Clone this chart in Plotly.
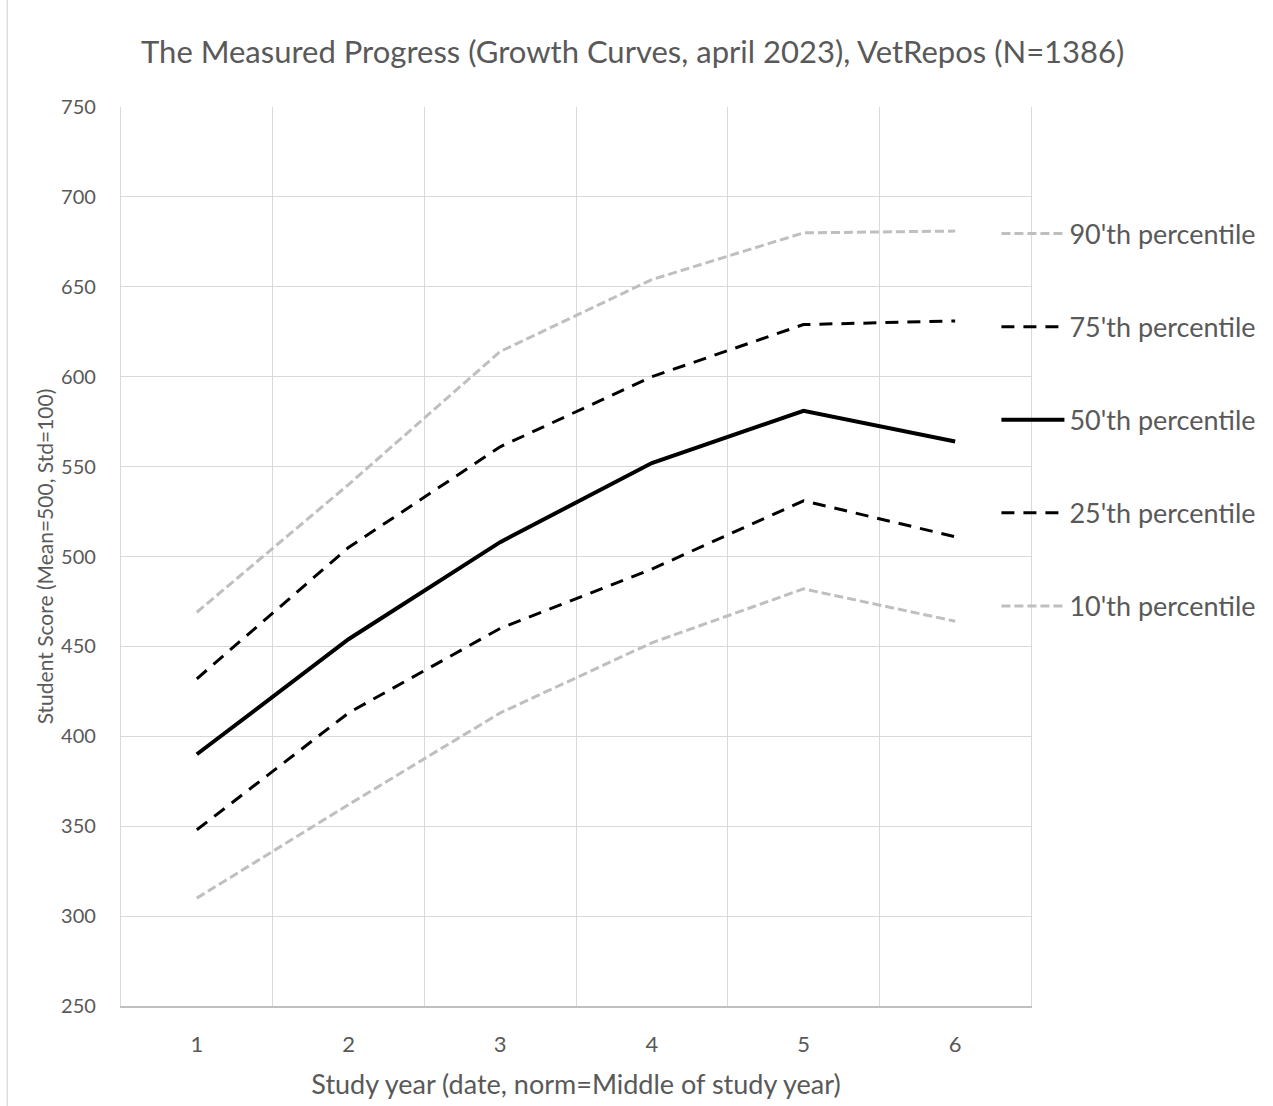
import plotly.graph_objects as go

years = [1, 2, 3, 4, 5, 6]
p90 = [469, 540, 614, 654, 680, 681]
p75 = [432, 505, 561, 600, 629, 631]
p50 = [390, 454, 508, 552, 581, 564]
p25 = [348, 413, 460, 493, 531, 511]
p10 = [310, 362, 413, 452, 482, 464]

names = ["90'th percentile", "75'th percentile", "50'th percentile", "25'th percentile", "10'th percentile"]
series = [p90, p75, p50, p25, p10]
styles = [
    dict(color="#BFBFBF", width=3, dash="9px,4px"),
    dict(color="#000000", width=3, dash="13px,9px"),
    dict(color="#000000", width=4, dash="solid"),
    dict(color="#000000", width=3, dash="13px,9px"),
    dict(color="#BFBFBF", width=3, dash="9px,4px"),
]

FONT = "Lato"
TXT = "#595959"

fig = go.Figure()
for i, (n, s, st) in enumerate(zip(names, series, styles)):
    fig.add_trace(go.Scatter(x=years, y=s, mode="lines", name=n,
                             line=dict(shape="linear", **st),
                             legendgroup=f"g{i}"))

fig.update_layout(
    width=1273, height=1106,
    margin=dict(l=121, r=240, t=107, b=100),
    paper_bgcolor="white", plot_bgcolor="white",
    font=dict(family=FONT, color=TXT),
    title=dict(text="The Measured Progress (Growth Curves, april 2023), VetRepos (N=1386)",
               x=0.497, xref="container", xanchor="center", y=0.953, yanchor="middle",
               font=dict(size=31, color=TXT, family=FONT)),
    showlegend=True,
    legend=dict(x=0.962, xanchor="left", y=0.886, yanchor="top",
                font=dict(size=27, color=TXT, family=FONT),
                itemwidth=63, tracegroupgap=55, bgcolor="rgba(0,0,0,0)",
                traceorder="grouped"),
    xaxis=dict(range=[0.5, 6.5], tickmode="array", tickvals=years,
               ticktext=[str(v) for v in years], showgrid=False,
               tickfont=dict(size=22, color=TXT), ticklabelstandoff=18,
               showline=True, linecolor="#BFBFBF", linewidth=1.5,
               zeroline=False, ticks="",
               minor=dict(tickmode="array", tickvals=[0.5, 1.5, 2.5, 3.5, 4.5, 5.5, 6.5],
                          showgrid=True, gridcolor="#D9D9D9", gridwidth=1.3, ticks=""),
               title=dict(text="Study year (date, norm=Middle of study year)",
                          font=dict(size=27, color=TXT), standoff=19)),
    yaxis=dict(range=[250, 750], dtick=50, tick0=250, showgrid=True,
               gridcolor="#D9D9D9", gridwidth=1.3, zeroline=False,
               tickfont=dict(size=20, color=TXT), ticklabelstandoff=20,
               showline=True, linecolor="#D9D9D9", linewidth=1.3, mirror=True, ticks="",
               title=dict(text="Student Score (Mean=500, Std=100)",
                          font=dict(size=21, color=TXT), standoff=1)),
)

fig.add_shape(type="line", xref="paper", yref="paper", x0=-0.125, x1=-0.125,
              y0=-0.12, y1=1.12, line=dict(color="#D9D9D9", width=1.3))

fig.write_html("out.html")
